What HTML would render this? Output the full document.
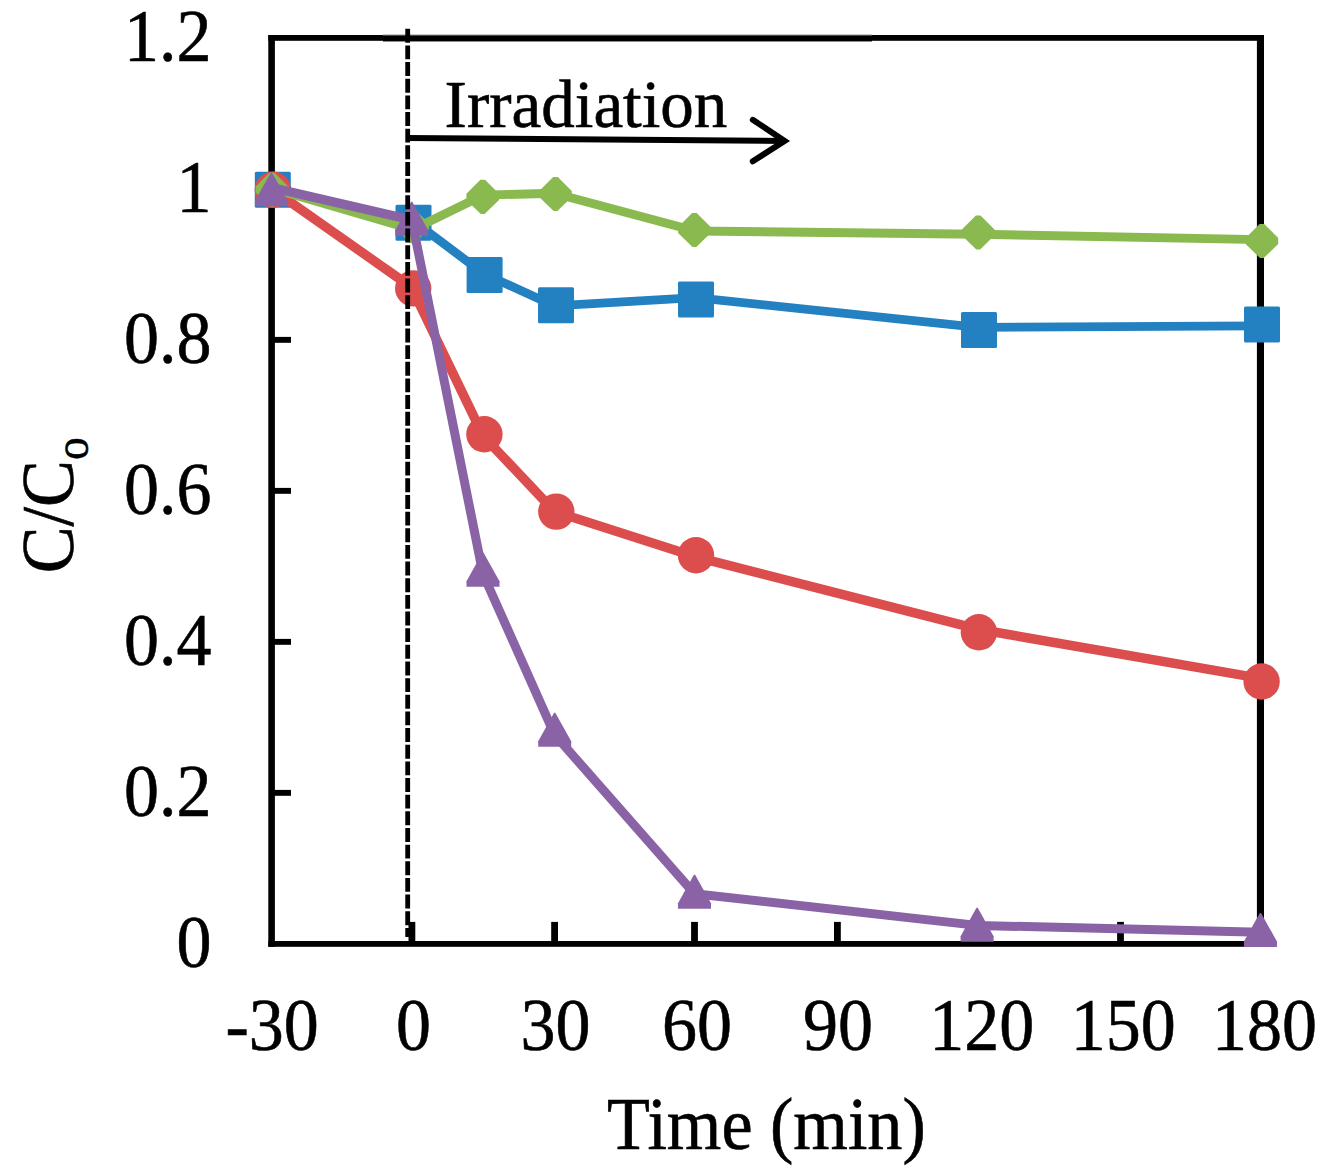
<!DOCTYPE html>
<html><head><meta charset="utf-8"><title>C/Co vs Time</title>
<style>html,body{margin:0;padding:0;background:#fff}svg{display:block}text{font-family:"Liberation Serif",serif;fill:#000;stroke:#000;stroke-width:0.6px}</style>
</head><body>
<svg width="1328" height="1174" viewBox="0 0 1328 1174">
<rect width="1328" height="1174" fill="#fff"/>
<rect x="268.3" y="35" width="6.6" height="911.8" fill="#000"/>
<rect x="1256.9" y="35" width="7.1" height="911.8" fill="#000"/>
<rect x="268.3" y="35" width="114.7" height="5.8" fill="#000"/>
<rect x="872" y="35" width="392" height="5.8" fill="#000"/>
<rect x="383" y="34" width="489" height="1" fill="#000" opacity="0.22"/>
<rect x="383" y="35" width="489" height="1" fill="#000" opacity="0.7"/>
<rect x="383" y="36" width="489" height="5" fill="#000"/>
<rect x="383" y="41" width="489" height="1" fill="#000" opacity="0.45"/>
<rect x="268.3" y="941" width="995.7" height="5.8" fill="#000"/>
<rect x="271.6" y="186.0" width="19.4" height="5.9" fill="#000"/>
<rect x="271.6" y="336.9" width="19.4" height="5.9" fill="#000"/>
<rect x="271.6" y="487.9" width="19.4" height="5.9" fill="#000"/>
<rect x="271.6" y="638.9" width="19.4" height="5.9" fill="#000"/>
<rect x="271.6" y="789.9" width="19.4" height="5.9" fill="#000"/>
<rect x="408.5" y="921.9" width="6.8" height="22" fill="#000"/>
<rect x="551.2" y="921.9" width="6.8" height="22" fill="#000"/>
<rect x="691.1" y="921.9" width="6.8" height="22" fill="#000"/>
<rect x="834.0" y="921.9" width="6.8" height="22" fill="#000"/>
<rect x="975.1" y="921.9" width="6.8" height="22" fill="#000"/>
<rect x="1117.1" y="921.9" width="6.8" height="22" fill="#000"/>
<polyline fill="none" stroke="#2481C1" stroke-width="8.8" stroke-linejoin="round" points="271.6,189.5 412.9,220.6 483.5,273.5 554.2,305.8 695.5,297.7 978.0,327.4 1260.6,325.9"/>
<rect x="254.8" y="171.8" width="36" height="36" rx="1.5" fill="#2481C1"/>
<rect x="395.5" y="204.8" width="36" height="36" rx="1.5" fill="#2481C1"/>
<rect x="466.6" y="257.0" width="36" height="36" rx="1.5" fill="#2481C1"/>
<rect x="538.0" y="287.3" width="36" height="36" rx="1.5" fill="#2481C1"/>
<rect x="678.0" y="281.4" width="36" height="36" rx="1.5" fill="#2481C1"/>
<rect x="961.0" y="312.0" width="36" height="36" rx="1.5" fill="#2481C1"/>
<rect x="1244.0" y="306.6" width="36" height="36" rx="1.5" fill="#2481C1"/>
<polyline fill="none" stroke="#DC4E4D" stroke-width="9.5" stroke-linejoin="round" points="271.6,188.8 411.2,287.0 483.2,435.9 554.6,511.6 695.5,556.8 978.0,629.2 1260.6,678.4"/>
<circle cx="272.8" cy="189.8" r="18.2" fill="#DC4E4D"/>
<circle cx="413.2" cy="288.4" r="18.2" fill="#DC4E4D"/>
<circle cx="484.4" cy="434.3" r="18.2" fill="#DC4E4D"/>
<circle cx="556.3" cy="511.6" r="18.2" fill="#DC4E4D"/>
<circle cx="696.0" cy="555.2" r="18.2" fill="#DC4E4D"/>
<circle cx="978.9" cy="632.3" r="18.2" fill="#DC4E4D"/>
<circle cx="1261.6" cy="681.5" r="18.2" fill="#DC4E4D"/>
<polyline fill="none" stroke="#8ABA4F" stroke-width="8.9" stroke-linejoin="round" points="271.6,188.2 412.9,229.4 483.5,195.1 554.2,193.2 695.5,231.0 978.0,234.3 1260.6,239.6"/>
<polygon points="269.70,172.45 274.30,172.45 288.30,186.45 288.30,192.55 273.90,206.55 270.10,206.55 255.70,192.55 255.70,186.45" fill="#8ABA4F"/>
<polygon points="410.20,209.15 414.80,209.15 428.80,223.15 428.80,229.25 414.40,243.25 410.60,243.25 396.20,229.25 396.20,223.15" fill="#8ABA4F"/>
<polygon points="480.40,179.80 485.00,179.80 499.00,193.80 499.00,199.90 484.60,213.90 480.80,213.90 466.40,199.90 466.40,193.80" fill="#8ABA4F"/>
<polygon points="553.20,176.95 557.80,176.95 571.80,190.95 571.80,197.05 557.40,211.05 553.60,211.05 539.20,197.05 539.20,190.95" fill="#8ABA4F"/>
<polygon points="692.10,212.95 696.70,212.95 710.70,226.95 710.70,233.05 696.30,247.05 692.50,247.05 678.10,233.05 678.10,226.95" fill="#8ABA4F"/>
<polygon points="975.90,215.45 980.50,215.45 994.50,229.45 994.50,235.55 980.10,249.55 976.30,249.55 961.90,235.55 961.90,229.45" fill="#8ABA4F"/>
<polygon points="1259.60,223.95 1264.20,223.95 1278.20,237.95 1278.20,244.05 1263.80,258.05 1260.00,258.05 1245.60,244.05 1245.60,237.95" fill="#8ABA4F"/>
<polyline fill="none" stroke="#8A62A6" stroke-width="9.0" stroke-linejoin="round" points="271.4,187.5 411.9,220.0 483.0,574.0 554.7,734.8 694.5,893.8 977.2,925.4 1260.5,932.3"/>
<polygon points="270.80,172.45 272.00,172.45 287.90,200.95 287.90,206.35 254.90,206.35 254.90,200.95" fill="#8A62A6"/>
<polygon points="411.10,201.80 412.30,201.80 428.20,230.30 428.20,235.70 395.20,235.70 395.20,230.30" fill="#8A62A6"/>
<polygon points="482.40,552.85 483.60,552.85 499.50,581.35 499.50,586.75 466.50,586.75 466.50,581.35" fill="#8A62A6"/>
<polygon points="554.10,712.75 555.30,712.75 571.20,741.25 571.20,746.65 538.20,746.65 538.20,741.25" fill="#8A62A6"/>
<polygon points="693.90,874.75 695.10,874.75 711.00,903.25 711.00,908.65 678.00,908.65 678.00,903.25" fill="#8A62A6"/>
<polygon points="976.50,907.75 977.70,907.75 993.60,936.25 993.60,941.65 960.60,941.65 960.60,936.25" fill="#8A62A6"/>
<polygon points="1259.85,913.03 1261.05,913.03 1276.95,941.53 1276.95,946.93 1243.95,946.93 1243.95,941.53" fill="#8A62A6"/>
<line x1="407.7" y1="28.8" x2="407.7" y2="937" stroke="#000" stroke-width="4.8" stroke-dasharray="13.9 2.75"/>
<line x1="407" y1="137.9" x2="785" y2="141" stroke="#000" stroke-width="6"/>
<polyline points="752.8,119.8 784.6,141 752.8,161.3" fill="none" stroke="#000" stroke-width="6" stroke-linecap="round" stroke-linejoin="miter"/>
<text transform="translate(444.60,127.00) scale(1.0000,1.0000)" font-size="67.00" text-anchor="start">Irradiation</text>
<text transform="translate(211.50,61.20) scale(0.9430,1.0000)" font-size="74.20" text-anchor="end">1.2</text>
<text transform="translate(211.50,212.20) scale(0.9430,1.0000)" font-size="74.20" text-anchor="end">1</text>
<text transform="translate(211.50,363.20) scale(0.9430,1.0000)" font-size="74.20" text-anchor="end">0.8</text>
<text transform="translate(211.50,514.20) scale(0.9430,1.0000)" font-size="74.20" text-anchor="end">0.6</text>
<text transform="translate(211.50,665.20) scale(0.9430,1.0000)" font-size="74.20" text-anchor="end">0.4</text>
<text transform="translate(211.50,816.20) scale(0.9430,1.0000)" font-size="74.20" text-anchor="end">0.2</text>
<text transform="translate(211.50,967.20) scale(0.9430,1.0000)" font-size="74.20" text-anchor="end">0</text>
<text transform="translate(272.20,1050.00) scale(0.9430,1.0000)" font-size="74.20" text-anchor="middle">-30</text>
<text transform="translate(413.60,1050.00) scale(0.9430,1.0000)" font-size="74.20" text-anchor="middle">0</text>
<text transform="translate(555.50,1050.00) scale(0.9430,1.0000)" font-size="74.20" text-anchor="middle">30</text>
<text transform="translate(697.00,1050.00) scale(0.9430,1.0000)" font-size="74.20" text-anchor="middle">60</text>
<text transform="translate(838.00,1050.00) scale(0.9430,1.0000)" font-size="74.20" text-anchor="middle">90</text>
<text transform="translate(981.80,1050.00) scale(0.9430,1.0000)" font-size="74.20" text-anchor="middle">120</text>
<text transform="translate(1123.20,1050.00) scale(0.9430,1.0000)" font-size="74.20" text-anchor="middle">150</text>
<text transform="translate(1264.50,1050.00) scale(0.9430,1.0000)" font-size="74.20" text-anchor="middle">180</text>
<text transform="translate(766.40,1149.20) scale(0.9449,1.0000)" font-size="74.20" text-anchor="middle">Time (min)</text>
<text transform="translate(73.1,573.2) rotate(-90) scale(0.9458,1)" font-size="74.20">C/C<tspan font-size="48.23" dy="14.5">o</tspan></text>
</svg>
</body></html>
